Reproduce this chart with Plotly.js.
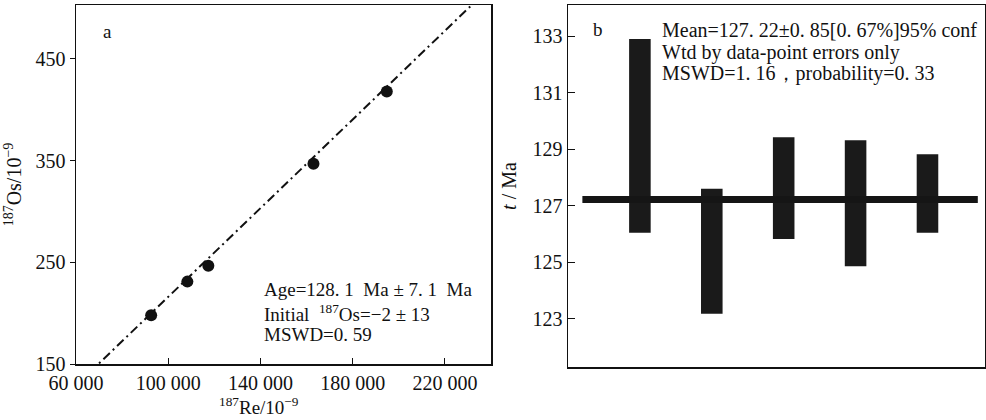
<!DOCTYPE html>
<html>
<head>
<meta charset="utf-8">
<script src="https://cdn.plot.ly/plotly-3.0.1.min.js"></script>
<style>html,body{margin:0;padding:0;background:#fff;}#chart{width:986px;height:420px;}</style>
</head>
<body>
<div id="chart"></div>
<script>
// Panel a: Re-Os isochron
const reValues = [92600, 108300, 117400, 163000, 194800];
const osValues = [198, 231, 246.5, 347, 418];
const isoIntercept = -2;
const isoSlope = 0.00218;
const isoLineX = [60000, 240000];
const xTickVals = [60000, 100000, 140000, 180000, 220000];
const xTickText = ["60 000", "100 000", "140 000", "180 000", "220 000"];
const yTickValsA = [150, 250, 350, 450];
const statsA = ["Age=128. 1  Ma ± 7. 1  Ma", "Initial  <sup>187</sup>Os=−2 ± 13", "MSWD=0. 59"];

// Panel b: weighted mean ages
const sampleIdx = [1, 2, 3, 4, 5];
const ageLow = [126.05, 123.18, 125.83, 124.86, 126.05];
const ageHigh = [132.9, 127.6, 129.42, 129.32, 128.82];
const meanAge = 127.22;
const yTickValsB = [123, 125, 127, 129, 131, 133];
const statsB = ["Mean=127. 22±0. 85[0. 67%]95% conf", "Wtd by data-point errors only", "MSWD=1. 16，probability=0. 33"];

const serif = "Liberation Serif, Times New Roman, serif";
const fnt = {family: serif, size: 19, color: "#111"};
const fntB = {family: serif, size: 20, color: "#111"};
const fntTick = {family: serif, size: 20, color: "#111"};

const isoLineY = isoLineX.map(x => isoIntercept + isoSlope * x);

const traces = [
  {x: isoLineX, y: isoLineY, mode: "lines", type: "scatter", xaxis: "x", yaxis: "y",
   line: {color: "#111", width: 2, dash: "9px,4px,2px,4px"}, hoverinfo: "skip", showlegend: false},
  {x: reValues, y: osValues, mode: "markers", type: "scatter", xaxis: "x", yaxis: "y",
   marker: {color: "#111", size: 12}, showlegend: false},
  {x: sampleIdx, y: ageHigh.map((h, i) => h - ageLow[i]), base: ageLow, type: "bar",
   xaxis: "x2", yaxis: "y2", width: 0.3, marker: {color: "#1a1a1a", line: {width: 0}}, showlegend: false}
];

const annotations = [
  {xref: "paper", yref: "paper", x: 259/986, y: 1 - 406/420, xanchor: "center", yanchor: "middle",
   text: "<sup>187</sup>Re/10<sup>−9</sup>", showarrow: false, font: fnt},
  {xref: "paper", yref: "paper", x: 107/986, y: 1 - 32/420, text: "a", showarrow: false, xanchor: "center", yanchor: "middle", font: fnt},
  {xref: "paper", yref: "paper", x: 598/986, y: 1 - 30/420, text: "b", showarrow: false, xanchor: "center", yanchor: "middle", font: fnt}
];
const linesA = [289, 313, 334];
statsA.forEach((t, i) => annotations.push({xref: "paper", yref: "paper", x: 262/986, y: 1 - linesA[i]/420,
  xanchor: "left", yanchor: "middle", align: "left", showarrow: false, font: fnt, text: t}));
const linesB = [30, 52, 73];
statsB.forEach((t, i) => annotations.push({xref: "paper", yref: "paper", x: 660/986, y: 1 - linesB[i]/420,
  xanchor: "left", yanchor: "middle", align: "left", showarrow: false, font: fntB, text: t}));

const layout = {
  width: 986, height: 420,
  margin: {l: 0, r: 0, t: 0, b: 0},
  paper_bgcolor: "#fff", plot_bgcolor: "#fff",
  font: fnt,
  showlegend: false,
  xaxis: {
    domain: [76/986, 491/986], range: [60000, 240000], anchor: "y",
    tickvals: xTickVals, ticktext: xTickText, ticks: "inside", ticklen: 6, tickcolor: "#111",
    showline: true, mirror: true, linecolor: "#111", linewidth: 1.5, showgrid: false, zeroline: false,
    tickfont: fntTick, ticklabelstandoff: 0
  },
  yaxis: {
    domain: [1 - 364/420, 1 - 5/420], range: [150, 503], anchor: "x",
    tickvals: yTickValsA, ticks: "outside", ticklen: 5, tickcolor: "#111",
    showline: true, mirror: true, linecolor: "#111", linewidth: 1.5, showgrid: false, zeroline: false,
    tickfont: fntTick,
    title: {text: "<sup>187</sup>Os/10<sup>−9</sup>", font: fntB, standoff: 8}
  },
  xaxis2: {
    domain: [568/986, 985/986], range: [0, 5.8], anchor: "y2",
    showticklabels: false, ticks: "",
    showline: true, mirror: true, linecolor: "#111", linewidth: 1.5, showgrid: false, zeroline: false
  },
  yaxis2: {
    domain: [1 - 367/420, 1 - 5/420], range: [121.3, 134.1], anchor: "x2",
    tickvals: yTickValsB, ticks: "inside", ticklen: 7, tickcolor: "#111",
    showline: true, mirror: true, linecolor: "#111", linewidth: 1.5, showgrid: false, zeroline: false,
    tickfont: fntTick,
    title: {text: "<i>t</i> / Ma", font: fntB, standoff: 10}
  },
  shapes: [
    {type: "line", xref: "x2", yref: "y2", x0: 0.2, x1: 5.7, y0: meanAge, y1: meanAge,
     line: {color: "#151515", width: 7}}
  ],
  annotations: annotations
};

Plotly.newPlot("chart", traces, layout, {staticPlot: true, displayModeBar: false});
</script>
</body>
</html>
